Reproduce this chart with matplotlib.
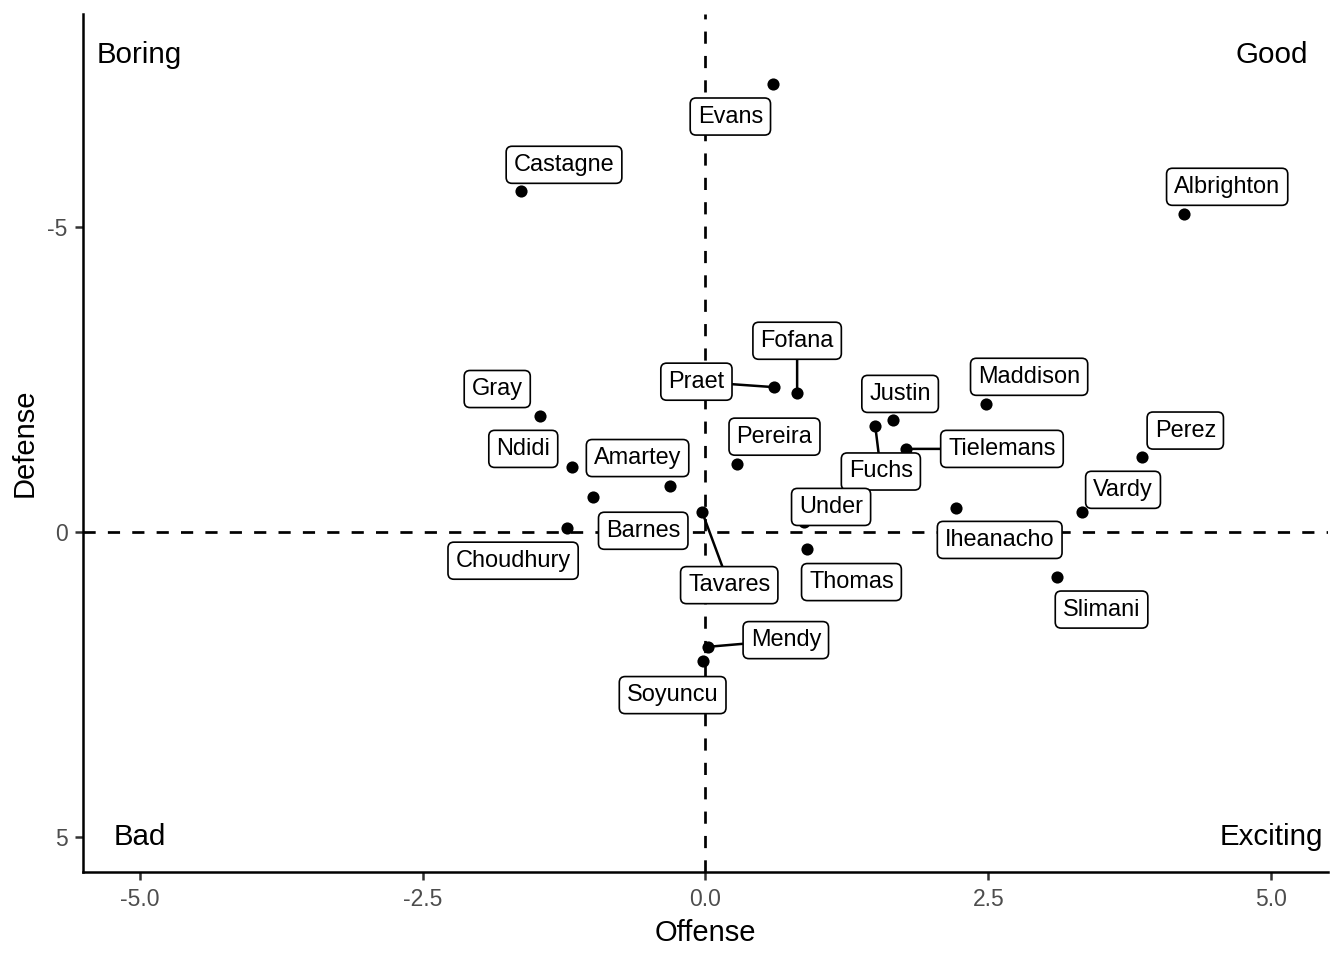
import matplotlib.pyplot as plt

plt.rcParams['font.family'] = ['Liberation Sans', 'DejaVu Sans']

# Player data: offense (x), defense (y, axis reversed)
players = ['Evans', 'Castagne', 'Albrighton', 'Praet', 'Fofana', 'Maddison', 'Justin',
           'Fuchs', 'Tielemans', 'Gray', 'Ndidi', 'Amartey', 'Barnes', 'Pereira', 'Perez',
           'Vardy', 'Iheanacho', 'Under', 'Tavares', 'Choudhury', 'Thomas', 'Slimani',
           'Mendy', 'Soyuncu']
offense = [0.60, -1.63, 4.23, 0.61, 0.81, 2.48, 1.66,
           1.50, 1.77, -1.46, -1.18, -0.31, -0.99, 0.28, 3.86,
           3.33, 2.21, 0.87, -0.03, -1.22, 0.90, 3.11,
           0.02, -0.02]
defense = [-7.33, -5.58, -5.20, -2.37, -2.28, -2.10, -1.83,
           -1.74, -1.36, -1.90, -1.06, -0.75, -0.57, -1.11, -1.23,
           -0.33, -0.39, -0.16, -0.33, -0.07, 0.28, 0.74,
           1.88, 2.11]

quadrants = ['Boring', 'Good', 'Bad', 'Exciting']
quad_x = [-5, 5, -5, 5]
quad_y = [-7.8, -7.8, 5, 5]

# where each repelled label box ended up (data coords of box centre)
label_pos = {
    'Evans': (0.22, -6.80), 'Castagne': (-1.25, -6.01), 'Albrighton': (4.61, -5.65),
    'Praet': (-0.08, -2.46), 'Fofana': (0.81, -3.13), 'Maddison': (2.86, -2.54),
    'Justin': (1.72, -2.26), 'Fuchs': (1.55, -0.99), 'Tielemans': (2.62, -1.36),
    'Gray': (-1.84, -2.34), 'Ndidi': (-1.61, -1.36), 'Amartey': (-0.60, -1.21),
    'Barnes': (-0.55, -0.02), 'Pereira': (0.61, -1.56), 'Perez': (4.24, -1.66),
    'Vardy': (3.69, -0.69), 'Iheanacho': (2.60, 0.13), 'Under': (1.11, -0.41),
    'Tavares': (0.21, 0.87), 'Choudhury': (-1.70, 0.47), 'Thomas': (1.29, 0.82),
    'Slimani': (3.50, 1.27), 'Mendy': (0.71, 1.77), 'Soyuncu': (-0.29, 2.67),
}
with_segment = ['Praet', 'Fofana', 'Fuchs', 'Tielemans', 'Tavares', 'Mendy']

fig = plt.figure(figsize=(8.96, 6.4), dpi=150)
ax = fig.add_axes([0.0618, 0.0917, 0.9262, 0.8937])

ax.axhline(0, color='black', lw=1.3, ls=(0, (4.5, 4.5)), zorder=1)
ax.axvline(0, color='black', lw=1.3, ls=(0, (4.5, 4.5)), zorder=1)

ax.scatter(offense, defense, s=34, color='black', zorder=2, linewidths=0)

box = dict(boxstyle='round,pad=0.32,rounding_size=0.25', fc='white', ec='black', lw=0.8)
for name, x, y in zip(players, offense, defense):
    lx, ly = label_pos[name]
    if name in with_segment:
        ax.annotate(name, xy=(x, y), xytext=(lx, ly), ha='center', va='center',
                    fontsize=11.3, bbox=box, zorder=3,
                    arrowprops=dict(arrowstyle='-', color='black', lw=1.2,
                                    shrinkA=0, shrinkB=0))
    else:
        ax.text(lx, ly, name, ha='center', va='center', fontsize=11.3, bbox=box, zorder=3)

for q, x, y in zip(quadrants, quad_x, quad_y):
    ax.text(x, y, q, ha='center', va='center', fontsize=14.2)

ax.set_xlim(-5.5, 5.5)
ax.set_ylim(5.565, -8.478)
ax.set_xticks([-5, -2.5, 0, 2.5, 5])
ax.set_xticklabels(['-5.0', '-2.5', '0.0', '2.5', '5.0'])
ax.set_yticks([-5, 0, 5])
ax.set_yticklabels(['-5', '0', '5'])
ax.tick_params(labelsize=11, labelcolor='#4D4D4D', length=4, width=1.2, color='#333333')
ax.set_xlabel('Offense', fontsize=14, labelpad=4)
ax.set_ylabel('Defense', fontsize=14, labelpad=4)

for side in ['top', 'right']:
    ax.spines[side].set_visible(False)
for side in ['left', 'bottom']:
    ax.spines[side].set_linewidth(1.2)

plt.savefig('out.png')
